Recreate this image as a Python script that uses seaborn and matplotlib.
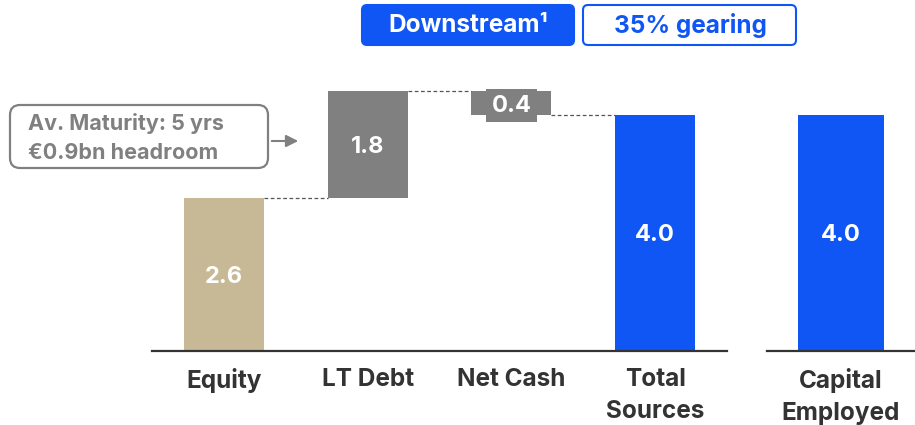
import matplotlib.pyplot as plt
import seaborn as sns
import numpy as np
from matplotlib.patches import FancyBboxPatch, FancyArrowPatch

# data
categories = ['Equity', 'LT Debt', 'Net Cash', 'Total\nSources']
changes = [2.6, 1.8, -0.4]
total_sources = 4.0
capital_employed = 4.0
labels = ['2.6', '1.8', '0.4', '4.0']

TAN = '#C8B996'
GREY = '#808080'
BLUE = '#1056F5'
DARK = '#333333'

sns.set_theme(style='white')
plt.rcParams['font.family'] = ['Inter', 'DejaVu Sans']

# waterfall bottoms / heights
cum = np.concatenate([[0], np.cumsum(changes)])
bottoms = [min(cum[i], cum[i + 1]) for i in range(len(changes))] + [0]
heights = [abs(c) for c in changes] + [total_sources]
colors = [TAN, GREY, GREY, BLUE]

fig = plt.figure(figsize=(9.15, 4.25), dpi=100)
ax = fig.add_axes([152 / 915, 74 / 425, 575 / 915, 295 / 425])
ax2 = fig.add_axes([767 / 915, 74 / 425, 148 / 915, 295 / 425])

sns.barplot(x=categories, y=heights, bottom=bottoms, color=GREY, width=0.557,
            saturation=1, errorbar=None, ax=ax)
for p, c in zip(ax.patches, colors):
    p.set_facecolor(c)
    p.set_edgecolor('none')

sns.barplot(x=['Capital\nEmployed'], y=[capital_employed], color=BLUE, width=0.575,
            saturation=1, errorbar=None, ax=ax2)
for p in ax2.patches:
    p.set_edgecolor('none')

# connectors
w = 0.557 / 2
conn_levels = [cum[1], cum[2], cum[3]]
for i, lvl in enumerate(conn_levels):
    ax.plot([i + w, i + 1 - w], [lvl, lvl], ls=(0, (3, 2)), color='#555555', lw=0.9)

# value labels
for i, (b, h, t) in enumerate(zip(bottoms, heights, labels)):
    kw = {}
    if i == 2:
        kw['bbox'] = dict(boxstyle='square,pad=0.22', fc=GREY, ec='none')
    ax.text(i, b + h / 2 - 0.04, t, ha='center', va='center', color='white',
            fontsize=17, fontweight='bold', **kw)
ax2.text(0, capital_employed / 2 - 0.04, '4.0', ha='center', va='center', color='white',
         fontsize=17, fontweight='bold')

for a in (ax, ax2):
    a.set_xlim(-0.5, 0.5 if a is ax2 else 3.5)
    a.set_ylim(0, 5)
    a.set_yticks([])
    a.set_xlabel('')
    a.set_ylabel('')
    for s in ['top', 'right', 'left']:
        a.spines[s].set_visible(False)
    a.spines['bottom'].set_color(DARK)
    a.spines['bottom'].set_linewidth(1.6)
    a.tick_params(axis='x', length=0, pad=12)
    for lab in a.get_xticklabels():
        lab.set_fontsize(17.5)
        lab.set_fontweight('bold')
        lab.set_color(DARK)
        lab.set_linespacing(1.5)
        lab.set_verticalalignment('top')

# header boxes (pixel -> inch coords)
tr = fig.dpi_scale_trans
def px(x, y):
    return x / 100, (425 - y) / 100

x0, y0 = px(362, 45)
fig.add_artist(FancyBboxPatch((x0, y0), 2.12, 0.40, boxstyle='round,pad=0,rounding_size=0.05',
                              fc=BLUE, ec=BLUE, lw=1.5, transform=tr))
fig.text(*px(468, 26), 'Downstream¹', transform=tr, ha='center', va='center',
         color='white', fontsize=17.5, fontweight='bold')
x0, y0 = px(583, 45)
fig.add_artist(FancyBboxPatch((x0, y0), 2.13, 0.40, boxstyle='round,pad=0,rounding_size=0.05',
                              fc='white', ec=BLUE, lw=1.5, transform=tr))
fig.text(*px(690, 26), '35% gearing', transform=tr, ha='center', va='center',
         color=BLUE, fontsize=17.5, fontweight='bold')

# maturity note
x0, y0 = px(10, 168)
fig.add_artist(FancyBboxPatch((x0, y0), 2.58, 0.63, boxstyle='round,pad=0,rounding_size=0.1',
                              fc='white', ec=GREY, lw=1.6, transform=tr))
fig.text(*px(28, 124), 'Av. Maturity: 5 yrs', transform=tr, ha='left', va='center',
         color=GREY, fontsize=15.5, fontweight='bold')
fig.text(*px(28, 153), '€0.9bn headroom', transform=tr, ha='left', va='center',
         color=GREY, fontsize=15.5, fontweight='bold')
fig.add_artist(FancyArrowPatch(px(269, 141), px(301, 141), arrowstyle='-|>', mutation_scale=18,
                               color=GREY, lw=1.5, transform=tr))

fig.savefig('out.png', dpi=100)
